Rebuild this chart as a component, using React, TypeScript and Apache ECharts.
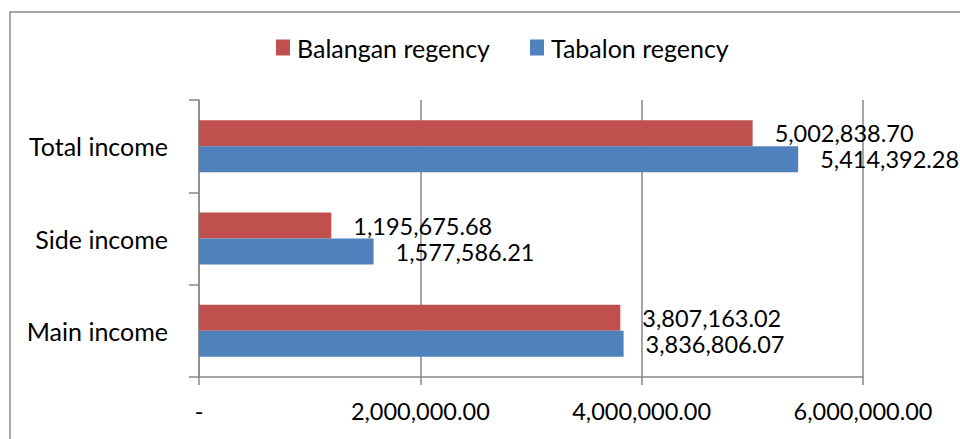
import React, { useEffect, useRef } from "react";
import * as echarts from "echarts";

const categories = ["Main income", "Side income", "Total income"];
const balangan = [3807163.02, 1195675.68, 5002838.7];
const tabalon = [3836806.07, 1577586.21, 5414392.28];
const seriesNames = ["Balangan regency", "Tabalon regency"];
const xTicks = [0, 2000000, 4000000, 6000000];

const FONT = "Lato, 'Open Sans', sans-serif";
const fmt = (v: number) =>
  v === 0
    ? "-"
    : v.toLocaleString("en-US", { minimumFractionDigits: 2, maximumFractionDigits: 2 });

export default function App() {
  const ref = useRef<HTMLDivElement>(null);
  useEffect(() => {
    if (!ref.current) return;
    const chart = echarts.init(ref.current, null, { renderer: "svg" });
    const labelCfg = {
      show: true,
      position: "right" as const,
      distance: 22,
      color: "#000",
      fontFamily: FONT,
      fontSize: 23.5,
      formatter: (p: any) => fmt(p.value),
    };
    chart.setOption({
      animation: false,
      backgroundColor: "#fff",
      textStyle: { fontFamily: FONT },
      graphic: [
        {
          type: "rect",
          shape: { x: 10, y: 12, width: 1000, height: 1000 },
          style: { fill: "none", stroke: "#8a8a8a", lineWidth: 1.5 },
          silent: true,
        },
      ],
      legend: {
        data: seriesNames,
        top: 30,
        left: 271,
        itemWidth: 14,
        itemHeight: 16,
        itemGap: 40,
        icon: "rect",
        textStyle: { fontFamily: FONT, fontSize: 25, color: "#000", padding: [0, 0, 0, 2] },
      },
      grid: { left: 199, right: 97, top: 100, bottom: 62, containLabel: false },
      xAxis: {
        type: "value",
        min: xTicks[0],
        max: xTicks[xTicks.length - 1],
        interval: xTicks[1] - xTicks[0],
        axisLine: { show: true, lineStyle: { color: "#888", width: 1.5 } },
        axisTick: { show: true, length: 8, lineStyle: { color: "#888", width: 1.5 } },
        splitLine: { show: true, lineStyle: { color: "#888", width: 1.5 } },
        axisLabel: {
          color: "#000",
          fontFamily: FONT,
          fontSize: 23.5,
          margin: 22,
          formatter: (v: number) => fmt(v),
        },
      },
      yAxis: {
        type: "category",
        data: categories,
        axisLine: { show: true, lineStyle: { color: "#888", width: 1.5 } },
        axisTick: { show: true, length: 10, inside: false, lineStyle: { color: "#888", width: 1.5 } },
        axisLabel: { color: "#000", fontFamily: FONT, fontSize: 25, margin: 31 },
      },
      series: [
        {
          name: seriesNames[0],
          type: "bar",
          data: balangan,
          barWidth: 26,
          barGap: "0%",
          itemStyle: { color: "#C0504D" },
          label: labelCfg,
        },
        {
          name: seriesNames[1],
          type: "bar",
          data: tabalon,
          barWidth: 26,
          barGap: "0%",
          itemStyle: { color: "#4F81BD" },
          label: labelCfg,
        },
      ],
    });
    return () => chart.dispose();
  }, []);
  return (
    <div
      ref={ref}
      style={{ position: "fixed", left: 0, top: 0, width: 960, height: 439 }}
    />
  );
}
